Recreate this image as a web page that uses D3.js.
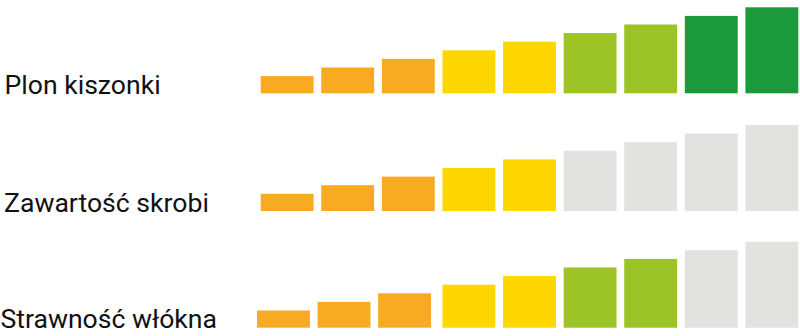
<!DOCTYPE html>
<html>
<head>
<meta charset="utf-8">
<script src="https://cdn.jsdelivr.net/npm/d3@7"></script>
<style>
  body { margin: 0; background: #fff; }
  text { font-family: Roboto, sans-serif; fill: #111; }
</style>
</head>
<body>
<div id="chart"></div>
<script>
// rating bars, three rows of nine steps

var width = 800,
    height = 336;

var rowLabels = ['Plon kiszonki', 'Zawartość skrobi', 'Strawność włókna'];
var steps = [1, 2, 3, 4, 5, 6, 7, 8, 9];
var stepValues = [2, 3, 4, 5, 6, 7, 8, 9, 10];
// colour class of each step, per row
var plonLevels = ['o', 'o', 'o', 'y', 'y', 'lg', 'lg', 'dg', 'dg'];
var skrobiaLevels = ['o', 'o', 'o', 'y', 'y', 'g', 'g', 'g', 'g'];
var wloknoLevels = ['o', 'o', 'o', 'y', 'y', 'lg', 'lg', 'g', 'g'];

var rows = [plonLevels, skrobiaLevels, wloknoLevels];

var colors = {
  o: '#f7aa22',
  y: '#fed700',
  lg: '#9dc426',
  dg: '#1a9a3b',
  g: '#e2e2e1'
};

var rowBottom = [93.3, 211, 327.7];
var labelX = [4.5, 4, 0.5];

var svg = d3.select('#chart').append('svg')
    .attr('width', width)
    .attr('height', height);

var x = d3.scaleBand()
    .domain(steps)
    .range([260.7, 798.3])
    .paddingInner(0.127)
    .paddingOuter(0);

var h = d3.scaleLinear()
    .domain([0, 10])
    .range([0, 86]);

rows.forEach(function(levels, r) {
  var g = svg.append('g');
  var data = steps.map(function(s, i) {
    return { step: s, value: stepValues[i], level: levels[i] };
  });

  g.selectAll('rect')
    .data(data)
    .enter().append('rect')
    .attr('x', function(d) {
      // the last row's first three bars sit a little further left
      return x(d.step) - (r == 2 && d.step <= 3 ? 3.7 : 0);
    })
    .attr('y', function(d) { return rowBottom[r] - h(d.value); })
    .attr('width', x.bandwidth())
    .attr('height', function(d) { return h(d.value); })
    .attr('fill', function(d) { return colors[d.level]; });

  g.append('text')
    .attr('x', labelX[r])
    .attr('y', rowBottom[r] + 0.7)
    .style('font-size', '26.6px')
    .text(rowLabels[r]);
});
</script>
</body>
</html>
